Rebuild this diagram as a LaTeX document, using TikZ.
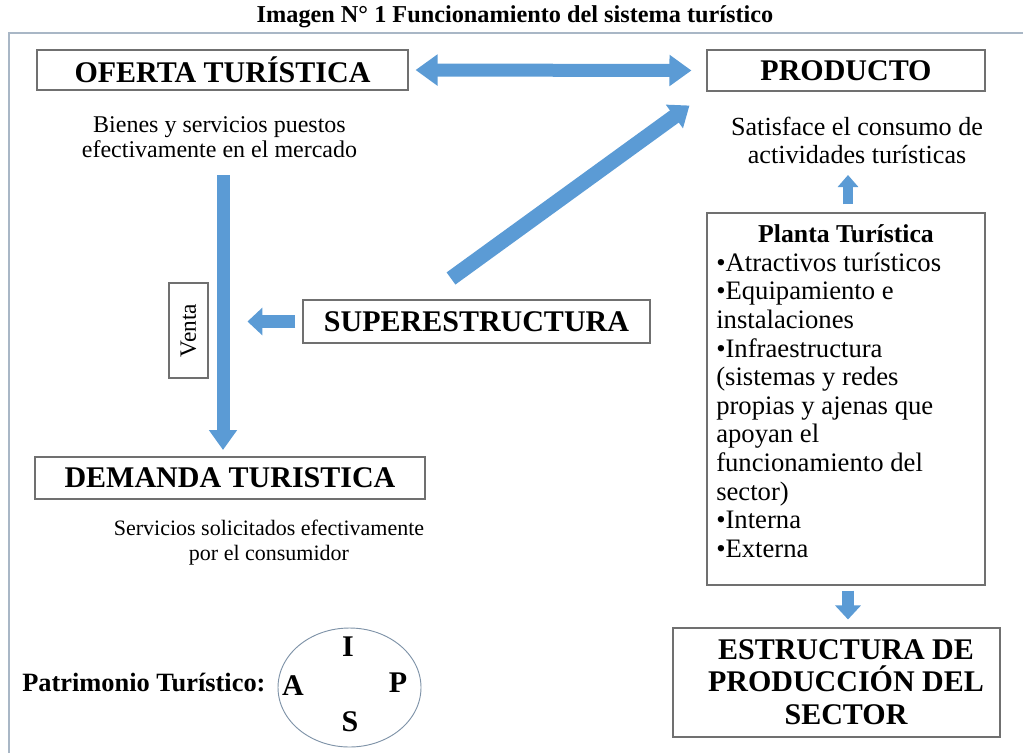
\documentclass[tikz,border=0pt]{standalone}
\usepackage{fontspec}
\setmainfont{Liberation Serif}
\usetikzlibrary{arrows.meta,shapes.geometric}
\definecolor{arr}{HTML}{5B9BD5}
\definecolor{framec}{HTML}{A9B7C6}
\definecolor{boxl}{HTML}{707070}
\definecolor{ellc}{HTML}{7F93A8}
\begin{document}
\begin{tikzpicture}[x=0.75pt,y=-0.75pt,
  box/.style={draw=boxl, line width=0.8pt, fill=white, inner sep=0pt},
  lbl/.style={font=\fontsize{22.5}{24}\selectfont\bfseries},
  txt/.style={align=center, inner sep=0pt},
  blu/.style={draw=arr, line width=#1},
  letter/.style={font=\fontsize{22.5}{24}\selectfont\bfseries, inner sep=0pt}
]
\useasboundingbox (0,0) rectangle (1023,753);
\draw[framec, line width=1pt] (9,753) -- (9,33) -- (1023,33);

\node[font=\fontsize{18.2}{20}\selectfont\bfseries] (title) at (515,17) {Imagen N° 1 Funcionamiento del sistema turístico};

% boxes
\node[box, lbl, minimum width=278.25pt, minimum height=30pt] (ofe) at (222.5,70) {OFERTA TURÍSTICA};
\node[box, lbl, minimum width=208.5pt, minimum height=30.75pt] (prod) at (846,70.5) {PRODUCTO};
\node[box, lbl, minimum width=260.25pt, minimum height=32.25pt] (super) at (476.5,321.5) {SUPERESTRUCTURA};
\node[box, rotate=90, font=\fontsize{17.5}{20}\selectfont, minimum width=71.25pt, minimum height=29.25pt] (venta) at (188.5,330.5) {Venta};
\node[box, lbl, minimum width=292.5pt, minimum height=31.5pt] (dem) at (230,478) {DEMANDA TURISTICA};
\node[box, minimum width=208.5pt, minimum height=279pt] (planta) at (846,399) {};
\node[box, minimum width=245.25pt, minimum height=81.75pt] (estr) at (836.5,682.5) {};
\node[txt, font=\fontsize{22.5}{24.5}\selectfont\bfseries] (estrtxt) at (846,682) {ESTRUCTURA DE\\PRODUCCIÓN DEL\\SECTOR};

% texts
\node[txt, font=\fontsize{18}{18.75}\selectfont] (bien) at (219.5,137.5) {Bienes y servicios puestos\\efectivamente en el mercado};
\node[txt, font=\fontsize{16.5}{18.75}\selectfont] (serv) at (269,542.5) {Servicios solicitados efectivamente\\por el consumidor};
\node[txt, font=\fontsize{19.6}{21}\selectfont] (sat) at (857,140) {Satisface el consumo de\\actividades turísticas};
\node[txt, font=\fontsize{19.3}{21}\selectfont\bfseries] (ptitle) at (846,234) {Planta Turística};
\node[anchor=north west, align=left, inner sep=0pt, font=\fontsize{20}{21.45}\selectfont] (plist) at (716,252.5)
 {•Atractivos turísticos\\•Equipamiento e\\instalaciones\\•Infraestructura\\(sistemas y redes\\propias y ajenas que\\apoyan el\\funcionamiento del\\sector)\\•Interna\\•Externa};

% patrimonio
\node[anchor=west, inner sep=0pt, font=\fontsize{19.8}{21}\selectfont\bfseries] (patl) at (22,683) {Patrimonio Turístico:};
\node[ellipse, draw=ellc, line width=0.7pt, minimum width=107.25pt, minimum height=89.25pt] (pat) at (349.5,687.5) {};
\node[letter] (lI) at (348,647) {I};
\node[letter] (lA) at (293,686) {A};
\node[letter] (lP) at (398,683) {P};
\node[letter] (lS) at (350,722) {S};

% arrows
\coordinate (vtop) at (223,175);
\coordinate (vbot) at (223,450);
\draw[blu=9.75pt, {Triangle[width=22.5pt,length=16.5pt]}-{Triangle[width=22.5pt,length=16.5pt]}]
  ([xshift=5.25pt]ofe.east) -- ([xshift=-11.25pt]prod.west);
\draw[blu=9.75pt, -{Triangle[width=20.25pt,length=15pt]}] (vtop) -- (vbot);
\draw[blu=9.75pt, -{Triangle[width=20.25pt,length=11.25pt]}] ([xshift=-5.25pt]super.west) -- ([xshift=-41.25pt]super.west);
\draw[blu=11.25pt, -{Triangle[width=21pt,length=14pt]}] ([shift={(-25.5,-21)}]super.north) -- ([shift={(-17,14)}]prod.south west);
\draw[blu=7.5pt, -{Triangle[width=15pt,length=9pt]}] ([yshift=6pt]planta.north -| 848,0) -- (848,175);
\draw[blu=9pt, -{Triangle[width=18.75pt,length=10.5pt]}] ([yshift=-3.75pt]planta.south -| 848,0) -- ([yshift=6pt]estr.north -| 848,0);
\end{tikzpicture}
\end{document}
